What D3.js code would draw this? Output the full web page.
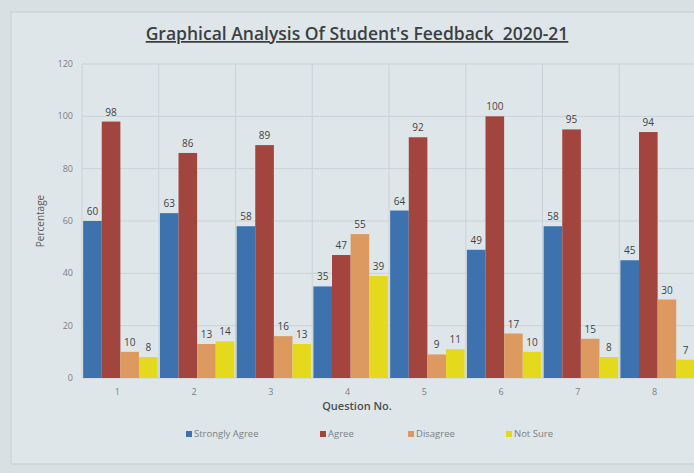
<!DOCTYPE html>
<html>
<head>
<meta charset="utf-8">
<script src="https://cdn.jsdelivr.net/npm/d3@7"></script>
<style>
  body { margin: 0; background: #d9e1e4; }
  text { font-family: "Open Sans", "DejaVu Sans", sans-serif; }
</style>
</head>
<body>
<svg id="chart"></svg>
<script>
var width = 694,
    height = 473;

var questions = ["1", "2", "3", "4", "5", "6", "7", "8"];
var seriesNames = ["Strongly Agree", "Agree", "Disagree", "Not Sure"];
var stronglyAgree = [60, 63, 58, 35, 64, 49, 58, 45];
var agree = [98, 86, 89, 47, 92, 100, 95, 94];
var disagree = [10, 13, 16, 55, 9, 17, 15, 30];
var notSure = [8, 14, 13, 39, 11, 10, 8, 7];
var yTicks = [0, 20, 40, 60, 80, 100, 120];

var colors = ["#3d72ae", "#a3453f", "#dd9a60", "#e4d91c"];
var seriesValues = [stronglyAgree, agree, disagree, notSure];

var svg = d3.select("#chart")
    .attr("width", width)
    .attr("height", height);

// photo-ish background and chart border
svg.append("rect")
    .attr("x", 0).attr("y", 0)
    .attr("width", width).attr("height", height)
    .attr("fill", "#d8e0e3");
svg.append("rect")
    .attr("x", 11).attr("y", 12)
    .attr("width", 700).attr("height", 452)
    .attr("fill", "#dfe6e9")
    .attr("stroke", "#c4cdd1");

var x = d3.scaleBand()
    .domain(questions)
    .range([82, 696])
    .paddingInner(0.03)
    .paddingOuter(0.015);

var x1 = d3.scaleBand()
    .domain(seriesNames)
    .range([0, x.bandwidth()]);

var y = d3.scaleLinear()
    .domain([0, 120])
    .range([378, 64]);

// horizontal grid
svg.append("g").selectAll("line")
    .data(yTicks)
    .enter().append("line")
    .attr("x1", 82).attr("x2", 696)
    .attr("y1", function (d) { return y(d); })
    .attr("y2", function (d) { return y(d); })
    .attr("stroke", "#c9d2d6");

// vertical grid at category boundaries
svg.append("g").selectAll("line")
    .data(questions)
    .enter().append("line")
    .attr("x1", function (d) { return x(d) - x.step() * x.paddingInner() / 2; })
    .attr("x2", function (d) { return x(d) - x.step() * x.paddingInner() / 2; })
    .attr("y1", y(120)).attr("y2", y(0))
    .attr("stroke", "#c9d2d6");

// y tick labels
svg.append("g").selectAll("text")
    .data(yTicks)
    .enter().append("text")
    .attr("x", 73)
    .attr("y", function (d) { return y(d); })
    .attr("dy", "0.35em")
    .attr("text-anchor", "end")
    .attr("font-size", 9)
    .attr("fill", "#7a8084")
    .text(function (d) { return d; });

// bars
var groups = svg.append("g").selectAll("g")
    .data(questions)
    .enter().append("g")
    .attr("transform", function (d) { return "translate(" + x(d) + ",0)"; });

groups.selectAll("rect")
    .data(function (q, i) {
        return seriesNames.map(function (s, j) { return { series: s, value: seriesValues[j][i], color: colors[j] }; });
    })
    .enter().append("rect")
    .attr("x", function (d) { return x1(d.series); })
    .attr("width", x1.bandwidth())
    .attr("y", function (d) { return y(d.value); })
    .attr("height", function (d) { return y(0) - y(d.value); })
    .attr("fill", function (d) { return d.color; });

groups.selectAll("text")
    .data(function (q, i) {
        return seriesNames.map(function (s, j) { return { series: s, value: seriesValues[j][i] }; });
    })
    .enter().append("text")
    .attr("x", function (d) { return x1(d.series) + x1.bandwidth() / 2; })
    .attr("y", function (d) { return y(d.value) - 6; })
    .attr("text-anchor", "middle")
    .attr("font-size", 10)
    .attr("fill", "#3e4346")
    .text(function (d) { return d.value; });

// x tick labels
svg.append("g").selectAll("text")
    .data(questions)
    .enter().append("text")
    .attr("x", function (d) { return x(d) + x.bandwidth() / 2 - 3; })
    .attr("y", 395)
    .attr("text-anchor", "middle")
    .attr("font-size", 9)
    .attr("fill", "#7a8084")
    .text(function (d) { return d; });

// title
svg.append("text")
    .attr("x", 357)
    .attr("y", 40)
    .attr("text-anchor", "middle")
    .attr("font-size", 17.5)
    .attr("font-weight", 600)
    .attr("fill", "#3b3f42")
    .attr("text-decoration", "underline")
    .style("white-space", "pre")
    .text("Graphical Analysis Of Student's Feedback  2020-21");

// axis titles
svg.append("text")
    .attr("transform", "translate(44,221)rotate(-90)")
    .attr("text-anchor", "middle")
    .attr("font-size", 10)
    .attr("fill", "#55595c")
    .text("Percentage");

svg.append("text")
    .attr("x", 357)
    .attr("y", 410)
    .attr("text-anchor", "middle")
    .attr("font-size", 11)
    .attr("font-weight", 600)
    .attr("fill", "#4a4e51")
    .text("Question No.");

// legend
var legendX = [186, 320, 408, 506];
var legend = svg.append("g").selectAll("g")
    .data(seriesNames)
    .enter().append("g")
    .attr("transform", function (d, i) { return "translate(" + legendX[i] + ",437)"; });

legend.append("rect")
    .attr("x", 0).attr("y", -6)
    .attr("width", 6).attr("height", 6)
    .attr("fill", function (d, i) { return colors[i]; });

legend.append("text")
    .attr("x", 8)
    .attr("y", 0)
    .attr("font-size", 9.5)
    .attr("fill", "#7a8084")
    .text(function (d) { return d; });
</script>
</body>
</html>
